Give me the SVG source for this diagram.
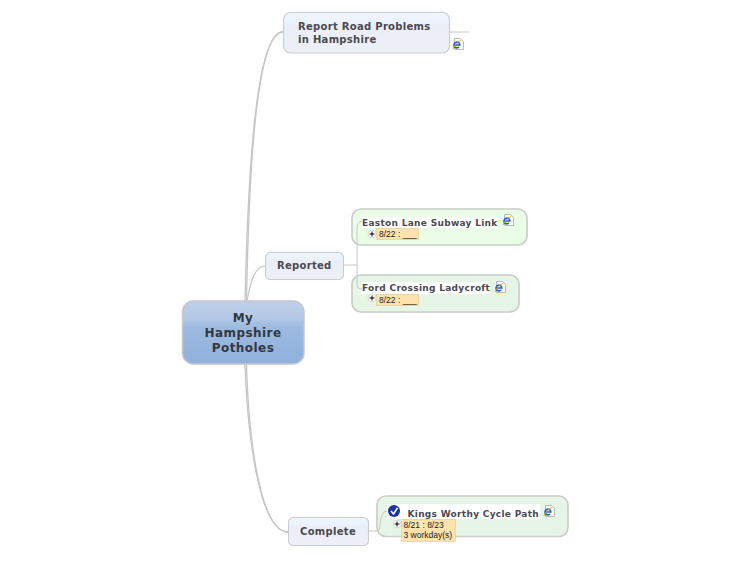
<svg xmlns="http://www.w3.org/2000/svg" width="750" height="563" viewBox="0 0 750 563">
<style>
.t{font-family:"DejaVu Sans",sans-serif;font-weight:bold;fill:#4a4a50;font-size:10px;letter-spacing:.3px}
.s{font-size:9px}
.root{font-family:"DejaVu Sans",sans-serif;font-weight:bold;fill:#33383f;font-size:12px;letter-spacing:.45px;text-anchor:middle}
.d{font-family:"Liberation Sans",Arial,sans-serif;fill:#222;font-size:8.500px}
.topic{fill:url(#tg);stroke:#c9ccd4;stroke-width:1.100}
.lab{fill:#fff}
.box{stroke:#c9cec8;stroke-width:1.700}
.c{fill:none;stroke:#c6c6c6}
.date{fill:#ffe3ad;stroke:#e0cf9c;stroke-width:.7}
.pm{fill:#fff;stroke:#cfcfcf;stroke-width:.8}
.pl{stroke:#000;stroke-width:1;fill:none}
</style>
<defs>
<linearGradient id="tg" x1="0" y1="0" x2="0" y2="1">
<stop offset="0" stop-color="#f0f6fe"/><stop offset=".28" stop-color="#eaf2fc"/><stop offset=".3" stop-color="#eceef7"/><stop offset="1" stop-color="#eef0f8"/>
</linearGradient>
<linearGradient id="rg" x1="0" y1="0" x2="0" y2="1">
<stop offset="0" stop-color="#bdcfe9"/><stop offset=".25" stop-color="#b6cae6"/><stop offset=".42" stop-color="#9dbae0"/><stop offset="1" stop-color="#8fb1dc"/>
</linearGradient>
<symbol id="ie" viewBox="0 0 12 12">
<path d="M2.500.5H8.500L11.500 3.500V11.500H2.500Z" fill="#fff" stroke="#a8a8a8" stroke-width=".8"/>
<path d="M2.500 7H7.800A2.900 2.900 0 1 0 7 9" fill="none" stroke="#1f62c4" stroke-width="1.600"/>
<path d="M1 11C1.500 8.500 5 4 9 2.500" fill="none" stroke="#e8a818" stroke-width="1"/>
</symbol>
<g id="plus"><circle r="4" class="pm"/><path d="M-2.500 0H2.500M0-2.500V2.500" class="pl"/></g>
</defs>

<g id="node-root">
<rect x="182.500" y="301" width="121.500" height="63" rx="11" fill="url(#rg)" stroke="#c5c7cb" stroke-width="1.500"/>
<text class="root" x="243" y="322">My</text>
<text class="root" x="243" y="337">Hampshire</text>
<text class="root" x="243" y="352">Potholes</text>
</g>

<g id="node-report">
<rect class="topic" x="283.500" y="12.500" width="166" height="40.500" rx="7"/>
<text class="t" x="298" y="29.500">Report Road Problems</text>
<text class="t" x="298" y="42.500">in Hampshire</text>
<use href="#ie" x="451.500" y="38" width="13" height="12"/>
</g>

<g id="node-reported">
<rect class="topic" x="265.500" y="252.500" width="78" height="27" rx="5"/>
<text class="t" x="277" y="269">Reported</text>
</g>

<g id="node-complete">
<rect class="topic" x="288.500" y="517.500" width="80" height="28" rx="5"/>
<text class="t" x="300" y="535">Complete</text>
</g>

<g id="node-easton">
<rect class="box" x="352" y="209" width="175" height="36" rx="9" fill="#e9fde7"/>
<rect class="lab" x="361" y="217" width="137" height="11"/>
<text class="t s" x="362" y="225.500">Easton Lane Subway Link</text>
<use href="#ie" x="502" y="214" width="12" height="12"/>
<use href="#plus" x="372" y="234"/>
<rect class="date" x="376.500" y="228.500" width="42" height="11"/>
<text class="d" x="379" y="237">8/22 : ___</text>
</g>

<g id="node-ford">
<rect class="box" x="352" y="275" width="167" height="37" rx="9" fill="#e6f5e6"/>
<rect class="lab" x="361" y="282" width="129" height="12"/>
<text class="t s" x="362" y="291">Ford Crossing Ladycroft</text>
<use href="#ie" x="494" y="281" width="12" height="12"/>
<use href="#plus" x="372" y="298"/>
<rect class="date" x="376.500" y="294.500" width="42" height="11"/>
<text class="d" x="379" y="303">8/22 : ___</text>
</g>

<g id="node-kings">
<rect class="box" x="377" y="496" width="191" height="40.500" rx="9" fill="#e6f5e6"/>
<rect class="lab" x="387" y="504" width="153" height="15"/>
<circle cx="394" cy="511" r="6" fill="#1c34a0"/>
<path d="M391 511L393.500 514L397.500 508" fill="none" stroke="#fff" stroke-width="1.600"/>
<text class="t s" x="407.500" y="517">Kings Worthy Cycle Path</text>
<use href="#ie" x="543" y="505" width="12" height="12"/>
<use href="#plus" x="397" y="524"/>
<rect class="date" x="401.500" y="519.500" width="54" height="22"/>
<text class="d" x="403.500" y="528">8/21 : 8/23</text>
<text class="d" x="403.500" y="538">3 workday(s)</text>
</g>

<g id="connectors">
<path class="c" stroke-width="1.300" d="M245 301C248 170 256 32 283 32"/>
<path class="c" stroke-width="1.300" d="M246.500 301C249 170 256 32 283 32"/>
<path class="c" stroke-width="1.200" d="M247 301C250 285 254 266 265 266"/>
<path class="c" stroke-width="1.300" d="M245 364C248 450 262 532 288 532"/>
<path class="c" stroke-width="1.300" d="M246.500 364C249 450 262 532 288 532"/>
<path class="c" stroke-width="1" d="M450 32H469"/>
<path class="c" stroke-width="1" d="M344 265H357M362 221Q357 222 357 228V284Q357 289 362 289"/>
<path class="c" stroke-width="1" d="M368 531H377Q380 531 380 525Q381 511 387 511"/>
</g>
</svg>
